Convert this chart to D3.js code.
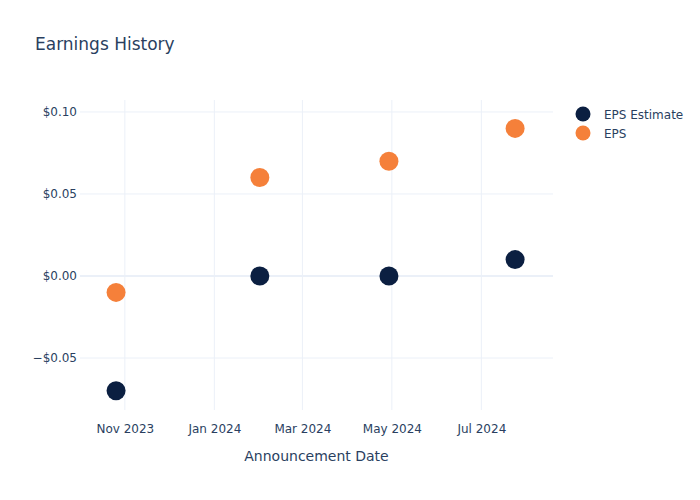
<!DOCTYPE html>
<html>
<head>
<meta charset="utf-8">
<script src="https://cdn.jsdelivr.net/npm/d3@7"></script>
<style>
  body { margin: 0; background: #fff; }
  svg { font-family: "DejaVu Sans", sans-serif; }
</style>
</head>
<body>
<svg id="chart" width="700" height="500"></svg>
<script>
const dates = ["2023-10-26", "2024-02-01", "2024-04-29", "2024-07-24"];
const epsEstimate = [-0.07, 0.00, 0.00, 0.01];
const eps = [-0.01, 0.06, 0.07, 0.09];
const yTicks = [-0.05, 0, 0.05, 0.10];
const xTickDates = ["2023-11-01", "2024-01-01", "2024-03-01", "2024-05-01", "2024-07-01"];
const seriesNames = ["EPS Estimate", "EPS"];
const seriesColors = ["#0b1f41", "#f5803a"];

(function () {
const parse = d3.utcParse("%Y-%m-%d");
const svg = d3.select("#chart");
const pL = 80, pR = 553, pT = 100, pB = 410;
const textColor = "#2a3f5f";
const gridColor = "#ebf0f8";
const font = "'DejaVu Sans', sans-serif";

const x = d3.scaleUtc()
  .domain([new Date(Date.UTC(2023, 9, 1, 10)), new Date(Date.UTC(2024, 7, 18, 20))])
  .range([pL, pR]);
const y = d3.scaleLinear()
  .domain([-0.0817, 0.1073])
  .range([pB, pT]);

// grid
const g = svg.append("g");
g.selectAll("line.xg").data(xTickDates).join("line")
  .attr("x1", d => x(parse(d))).attr("x2", d => x(parse(d)))
  .attr("y1", pT).attr("y2", pB)
  .attr("stroke", gridColor).attr("stroke-width", 1);
g.selectAll("line.yg").data(yTicks).join("line")
  .attr("x1", pL).attr("x2", pR)
  .attr("y1", d => y(d)).attr("y2", d => y(d))
  .attr("stroke", gridColor).attr("stroke-width", d => d === 0 ? 2 : 1);

// axes
const yAxis = d3.axisLeft(y).tickValues(yTicks).tickSize(0).tickPadding(3)
  .tickFormat(d => (d < 0 ? "\u2212" : "") + "$" + Math.abs(d).toFixed(2));
const ya = svg.append("g").attr("transform", `translate(${pL},0)`).call(yAxis);
ya.select(".domain").remove();
ya.selectAll("text").attr("fill", textColor).style("font-size", "12px")
  .style("font-family", font);

const xAxis = d3.axisBottom(x).tickValues(xTickDates.map(parse)).tickSize(0).tickPadding(14)
  .tickFormat(d3.utcFormat("%b %Y"));
const xa = svg.append("g").attr("transform", `translate(0,${pB})`).call(xAxis);
xa.select(".domain").remove();
xa.selectAll("text").attr("fill", textColor).style("font-size", "12px")
  .style("font-family", font);

// points
const series = [epsEstimate, eps];
series.forEach((vals, si) => {
  svg.append("g").selectAll("circle").data(vals).join("circle")
    .attr("cx", (d, i) => x(parse(dates[i])))
    .attr("cy", d => y(d))
    .attr("r", 9.5)
    .attr("fill", seriesColors[si]);
});

// title
svg.append("text").attr("x", 35).attr("y", 50).text("Earnings History")
  .attr("fill", textColor).style("font-size", "17px");

// x axis title
svg.append("text").attr("x", (pL + pR) / 2).attr("y", 461).attr("text-anchor", "middle")
  .text("Announcement Date").attr("fill", textColor).style("font-size", "14px");

// legend
const lg = svg.append("g");
seriesNames.forEach((name, i) => {
  lg.append("circle").attr("cx", 583).attr("cy", 114 + i * 19).attr("r", 7.5)
    .attr("fill", seriesColors[i]);
  lg.append("text").attr("x", 604).attr("y", 118.5 + i * 19).text(name)
    .attr("fill", textColor).style("font-size", "12px");
});
})();
</script>
</body>
</html>
